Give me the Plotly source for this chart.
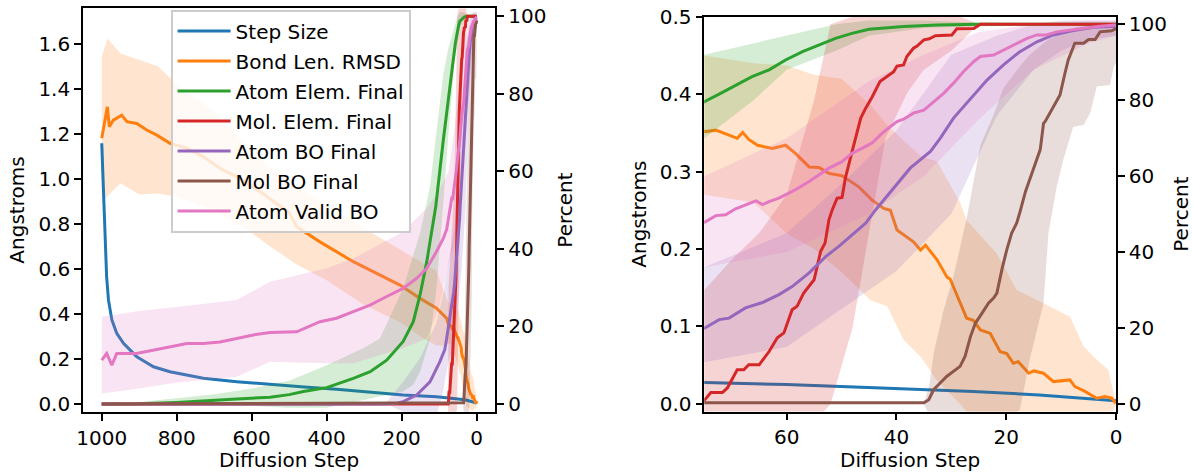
import plotly.graph_objects as go

# ---------------- data ----------------
BLUE_STEPS = [1000, 991, 987, 982, 973, 960, 942, 907, 862, 818, 729, 640, 551, 460, 374, 280, 196, 107, 75, 60, 44, 26, 14, 8, 0]
STEP_SIZE = [1.158, 0.713, 0.565, 0.461, 0.373, 0.314, 0.269, 0.210, 0.165, 0.143, 0.114, 0.099, 0.086, 0.075, 0.065,
             0.052, 0.040, 0.032, 0.0275, 0.025, 0.021, 0.016, 0.0116, 0.0086, 0.004]
STEP_SIZE_STD = [0.02, 0.02, 0.018, 0.016, 0.014, 0.012, 0.01, 0.008, 0.006, 0.005, 0.004, 0.003, 0.003, 0.003, 0.002,
                 0.002, 0.002, 0.002, 0.0015, 0.0015, 0.0015, 0.001, 0.001, 0.001, 0.001]

ORANGE_STEPS = [1000, 995.7, 985, 979.7, 969, 946.7, 933, 906.7, 880, 853, 818, 773, 729, 684.5, 640, 596, 551, 500,
                480, 418, 329, 258, 204.5, 151, 107, 80, 74.9, 72.9, 70.5, 69, 68, 66.9, 65.3, 62.6, 60.2, 58.4, 55.9,
                54.1, 52.3, 49.9, 46.8, 44.4, 42.3, 41.1, 39.9, 36.9, 35.6, 34.7, 32.6, 30.8, 30.2, 27.2, 26, 24.7,
                22.9, 21.1, 19.9, 18.7, 17.8, 15.9, 15, 13.2, 11.4, 9.6, 8.4, 7.5, 5.9, 3.5, 2, 0.8, 0]
BOND_RMSD = [1.180, 1.217, 1.320, 1.231, 1.261, 1.283, 1.254, 1.246, 1.217, 1.194, 1.158, 1.136, 1.098, 1.047, 1.009,
             0.965, 0.913, 0.85, 0.787, 0.72, 0.632, 0.573, 0.528, 0.469, 0.425, 0.380, 0.3514, 0.3535, 0.347, 0.343,
             0.3506, 0.3415, 0.334, 0.330, 0.334, 0.3235, 0.306, 0.3054, 0.2977, 0.2946, 0.280, 0.263, 0.2525, 0.250,
             0.2245, 0.2094, 0.1987, 0.205, 0.186, 0.164, 0.161, 0.1106, 0.108, 0.0955, 0.091, 0.0675, 0.065, 0.0525,
             0.0546, 0.0396, 0.0426, 0.0396, 0.0288, 0.030, 0.031, 0.0223, 0.0172, 0.0074, 0.0094, 0.0074, 0.001]
ORANGE_BAND_STEPS = [1000, 985, 950, 900, 850, 800, 700, 600, 551, 480, 400, 300, 200, 150, 107, 80, 75, 66, 60, 55,
                     50, 44.7, 41.7, 38.7, 35.6, 32.6, 28.4, 27.2, 21.7, 18.1, 13.2, 8.4, 5.9, 3.5, 1.4, 0]
BOND_RMSD_LO = [0.898, 0.92, 0.98, 0.93, 0.935, 0.92, 0.86, 0.76, 0.70, 0.62, 0.55, 0.44, 0.36, 0.30, 0.26, 0.26, 0.27,
                0.26, 0.22, 0.20, 0.17, 0.134, 0.126, 0.083, 0.061, 0.03, 0.0, -0.01, -0.02, -0.02, -0.03, -0.03, -0.02,
                -0.02, -0.02, 0.0]
BOND_RMSD_HI = [1.542, 1.624, 1.557, 1.53, 1.50, 1.42, 1.30, 1.12, 1.05, 0.97, 0.88, 0.78, 0.68, 0.63, 0.59, 0.47, 0.45,
                0.44, 0.437, 0.425, 0.42, 0.386, 0.36, 0.34, 0.32, 0.313, 0.26, 0.237, 0.194, 0.147, 0.13, 0.113, 0.074,
                0.057, 0.044, 0.0]

GREEN_STEPS = [1000, 900, 800, 729, 640, 551, 500, 462, 400, 329, 284, 240, 196, 169, 151, 133, 120, 109, 89, 75, 72.3,
               69.3, 66.3, 63.2, 60.2, 57.1, 54.1, 51.1, 48.1, 45, 38.7, 32.6, 24.7, 0]
ATOM_ELEM = [0, 0.05, 0.4, 0.85, 1.3, 1.7, 2.4, 3.2, 4.2, 6.6, 8.3, 11.3, 16.1, 21.2, 28.1, 36.7, 44.4, 51, 68, 79.6,
             81.6, 84.0, 86.2, 88.0, 90.6, 92.8, 94.5, 96.3, 97.6, 98.7, 99.4, 99.8, 100, 100]
GREEN_BAND_STEPS = [1000, 900, 800, 700, 600, 500, 400, 300, 258, 196, 169, 151, 124.5, 107, 89, 75, 66, 60, 51, 45,
                    35, 25, 0]
ATOM_ELEM_LO = [0, 0, 0, -0.3, -0.5, -1, -1, 1, 2, 3.2, 5, 8.3, 16.9, 30, 52, 70, 80, 88, 93, 97, 99, 99.5, 100]
ATOM_ELEM_HI = [0, 0.5, 1.5, 2.5, 4, 6, 10, 14.5, 16.9, 29.8, 38.4, 44, 56, 70, 85, 92, 95, 97, 100, 101, 101, 100.5, 100]

RED_STEPS = [1000, 76, 74.9, 73.8, 71.7, 70.8, 69, 67.8, 66.9, 65, 63.2, 61.7, 60.5, 59, 58.1, 56.9, 55, 54.4, 53.8,
             53, 52.3, 51.7, 50.8, 49.9, 49.3, 48.4, 47.5, 46.5, 45.6, 44.4, 43, 41.7, 40.5, 39.9, 38.7, 38.1, 36.9,
             36.3, 35, 34, 32.9, 29.9, 29, 25.9, 24.7, 0]
MOL_ELEM = [0, 0, 1.1, 3.0, 3.0, 4.2, 9.0, 9.0, 10.3, 10.3, 13.8, 17.4, 18.7, 24.8, 25.7, 29.2, 32.7, 36.2, 40.2, 42.4,
            48.5, 51.1, 54.2, 54.4, 59.5, 64.7, 70, 75.3, 77.9, 80.9, 84.9, 86.2, 87.5, 89, 89.3, 91.5, 93.7, 94.2,
            95.9, 96.2, 97, 97.2, 98.8, 98.9, 100, 100]
RED_BAND_STEPS = [1000, 76, 75, 70, 65, 60, 55, 52, 48, 45, 42, 38, 35, 30, 25, 0]
MOL_ELEM_LO = [0, 0, -28, -25, -20, -15, -5, 0, 20, 45, 70, 82, 88, 93, 100, 100]
MOL_ELEM_HI = [0, 0, 30, 38, 45, 55, 80, 100, 102, 103, 103, 103, 103, 103, 100, 100]

PURPLE_STEPS = [1000, 250, 213, 196, 160, 124.5, 98, 85, 80, 74.9, 72.3, 70.5, 67.5, 64.4, 61.4, 59, 55.9, 52.9, 50.5,
                48.1, 45.6, 43.8, 41.1, 37.5, 33.8, 32, 29.6, 26.5, 23.5, 20.5, 17.5, 14.4, 11.4, 8, 4, 0]
ATOM_BO = [0, 0, 0.2, 0.6, 2.3, 5.7, 10.9, 14, 16.9, 20.0, 22.2, 22.6, 25.3, 26.7, 28.8, 30.9, 34.5, 38.8, 41.5, 44.6,
           47.6, 51.1, 55.9, 62.1, 66.5, 70, 75.3, 80.5, 85.3, 89.3, 92.8, 95.4, 97.2, 98.3, 99.2, 99.5]
PURPLE_BAND_STEPS = [1000, 260, 240, 196, 151, 107, 90, 75, 60, 50, 40, 30, 21.7, 15, 10, 5, 0]
ATOM_BO_LO = [0, 0, 0, -2, -5, -3, 3, 11, 15, 25, 35, 50, 76, 88, 93, 96, 97]
ATOM_BO_HI = [0, 0, 0.5, 5.7, 11.8, 21, 28, 36, 45, 58, 72, 92, 97, 100, 101, 101, 101]

BROWN_STEPS = [1000, 35, 34.1, 33.2, 32.3, 30.8, 28.4, 27.5, 26.5, 25.6, 24.4, 23.2, 22.3, 21.7, 20.8, 19.9, 19, 18.1,
               17.5, 16.5, 15, 13.8, 13.2, 12.9, 11.4, 10.2, 9.3, 8.7, 7.5, 5.9, 5, 3.8, 2.9, 0.8, 0]
MOL_BO = [0, 0.3, 1.1, 3.8, 5.1, 7.3, 9.9, 12.5, 17.8, 21.3, 23.9, 26.6, 27.9, 29.2, 35.3, 40.6, 45, 47.6, 50.5, 55.9,
          62.1, 67, 73.9, 74.4, 78.3, 81.4, 87.1, 90.6, 95, 95, 96, 96, 98, 98.3, 98.9]
BROWN_BAND_STEPS = [1000, 36, 35, 34, 33.2, 31.4, 29.6, 27.2, 24.7, 22.3, 20.5, 17.5, 15.7, 13.2, 12.3, 10.8, 9.6, 7.8,
                    5.9, 4.7, 3.5, 1.1, 0.4, 0]
MOL_BO_LO = [0, 0, 0, -3, -6, -10, -12, -15, -12, -8, -5, -1.5, 11.7, 26.6, 45, 57.3, 64.3, 73, 73.5, 76.6, 83.6, 84,
             88.8, 90]
MOL_BO_HI = [0, 0, 0, 5, 13.4, 24.8, 33.6, 49, 68.2, 76.1, 83.2, 89, 92, 95, 96, 97, 98, 99, 99.5, 100, 100, 100, 100,
             100]

PINK_STEPS = [1000, 986.7, 973, 960, 907, 862, 818, 773, 729, 685, 640, 596, 551, 480, 418, 374, 329, 284.5, 240, 196,
              160, 133, 107, 89, 80, 74.9, 72.9, 71.1, 69.3, 67.5, 65.6, 64.4, 63.2, 61.4, 60.2, 58.4, 55.9, 54.1, 52.3,
              49.9, 48.1, 46.2, 44.4, 42.3, 39.9, 38.7, 36.9, 35, 33.2, 31.4, 29.6, 27.8, 25.9, 24.7, 22.3, 20.5, 18.7,
              16.2, 14.4, 12.7, 10.8, 6, 3, 0]
ATOM_VALID = [11.3, 13, 10, 13, 13, 13.9, 14.7, 15.6, 15.6, 16, 16.9, 17.8, 18.4, 18.6, 21.2, 22.1, 23.8, 25.5, 27.7,
              29.8, 32.4, 35, 39.3, 42.7, 45, 47.9, 49.6, 49.8, 51.4, 52.4, 53.5, 52.5, 53.3, 54.2, 55.1, 56.4, 58.6,
              60.3, 62.1, 63.8, 66, 67.4, 68.8, 71.7, 74.4, 75, 76.6, 77.4, 79.6, 81.8, 84.5, 87.5, 90.2, 91.5, 91.9,
              93.2, 94.6, 96.3, 97.2, 97.2, 98, 99, 99.5, 99.8]
PINK_BAND_STEPS = [1000, 900, 800, 640, 551, 400, 329, 196, 133, 100, 75, 60, 45, 35, 25, 15, 5, 0]
ATOM_VALID_LO = [2.7, 4, 5.5, 7, 10.9, 10.5, 10.5, 14.4, 16.9, 25, 36, 40, 50, 60, 75, 88, 95, 97]
ATOM_VALID_HI = [22.5, 24, 25, 26.8, 31.5, 35, 37.5, 44.4, 50.5, 55, 60, 70, 85, 92, 98, 100, 101, 101]

NAMES = ["Step Size", "Bond Len. RMSD", "Atom Elem. Final", "Mol. Elem. Final", "Atom BO Final", "Mol BO Final",
         "Atom Valid BO"]
COLORS = ["#1f77b4", "#ff7f0e", "#2ca02c", "#d62728", "#9467bd", "#8c564b", "#e377c2"]

LEFT_XTICKS = [1000, 800, 600, 400, 200, 0]
RIGHT_XTICKS = [60, 40, 20, 0]
LEFT_ATICKS = [0.0, 0.2, 0.4, 0.6, 0.8, 1.0, 1.2, 1.4, 1.6]
RIGHT_ATICKS = [0.0, 0.1, 0.2, 0.3, 0.4, 0.5]
PCT_TICKS = [0, 20, 40, 60, 80, 100]

# ---------------- figure ----------------
W, H = 1193, 472
FONT = "DejaVu Sans"
FS = 20


def rgba(hexc, a):
    h = hexc.lstrip("#")
    return "rgba(%d,%d,%d,%s)" % (int(h[0:2], 16), int(h[2:4], 16), int(h[4:6], 16), a)


blue_lo = [m - s for m, s in zip(STEP_SIZE, STEP_SIZE_STD)]
blue_hi = [m + s for m, s in zip(STEP_SIZE, STEP_SIZE_STD)]

# (name, color, axis kind, line steps, line values, band steps, band lo, band hi)
SERIES = [
    (NAMES[0], COLORS[0], "A", BLUE_STEPS, STEP_SIZE, BLUE_STEPS, blue_lo, blue_hi),
    (NAMES[1], COLORS[1], "A", ORANGE_STEPS, BOND_RMSD, ORANGE_BAND_STEPS, BOND_RMSD_LO, BOND_RMSD_HI),
    (NAMES[2], COLORS[2], "P", GREEN_STEPS, ATOM_ELEM, GREEN_BAND_STEPS, ATOM_ELEM_LO, ATOM_ELEM_HI),
    (NAMES[3], COLORS[3], "P", RED_STEPS, MOL_ELEM, RED_BAND_STEPS, MOL_ELEM_LO, MOL_ELEM_HI),
    (NAMES[4], COLORS[4], "P", PURPLE_STEPS, ATOM_BO, PURPLE_BAND_STEPS, ATOM_BO_LO, ATOM_BO_HI),
    (NAMES[5], COLORS[5], "P", BROWN_STEPS, MOL_BO, BROWN_BAND_STEPS, MOL_BO_LO, MOL_BO_HI),
    (NAMES[6], COLORS[6], "P", PINK_STEPS, ATOM_VALID, PINK_BAND_STEPS, ATOM_VALID_LO, ATOM_VALID_HI),
]

PANELS = [
    {"x": "x", "A": "y", "P": "y2", "legend": True},
    {"x": "x2", "A": "y3", "P": "y4", "legend": False},
]

fig = go.Figure()
for panel in PANELS:
    for kind in ("A", "P"):
        # bands first (below lines), then lines
        for name, col, k, ls, lv, bs, lo, hi in SERIES:
            if k != kind:
                continue
            fig.add_trace(go.Scatter(
                x=list(bs) + list(bs)[::-1], y=list(hi) + list(lo)[::-1],
                xaxis=panel["x"], yaxis=panel[kind], mode="lines", fill="toself",
                fillcolor=rgba(col, 0.2), line=dict(width=0, color=rgba(col, 0)),
                hoverinfo="skip", showlegend=False))
        for name, col, k, ls, lv, bs, lo, hi in SERIES:
            if k != kind:
                continue
            fig.add_trace(go.Scatter(
                x=ls, y=lv, xaxis=panel["x"], yaxis=panel[kind], mode="lines",
                line=dict(color=col, width=3), name=name, legendgroup=name,
                showlegend=panel["legend"]))

axis_common = dict(showline=True, linecolor="black", linewidth=1.6, ticks="outside", ticklen=7, tickwidth=1.6,
                   tickcolor="black", showgrid=False, zeroline=False, automargin=False,
                   tickfont=dict(family=FONT, size=FS, color="black"),
                   title_font=dict(family=FONT, size=FS, color="black"))

LX = [83 / W, 495.4 / W]
LY = [1 - 411.7 / H, 1 - 8.4 / H]
RX = [704.3 / W, 1116 / W]
RY = [1 - 411.5 / H, 1 - 16.7 / H]

fig.update_layout(
    width=W, height=H, margin=dict(l=0, r=0, t=0, b=0, autoexpand=False),
    paper_bgcolor="white", plot_bgcolor="rgba(0,0,0,0)",
    font=dict(family=FONT, size=FS, color="black"),
    showlegend=True,
    legend=dict(x=171 / W, y=1 - 10 / H, xanchor="left", yanchor="top",
                bgcolor="rgba(255,255,255,0.8)", bordercolor="#cccccc", borderwidth=1.6,
                font=dict(family=FONT, size=FS, color="black"), tracegroupgap=1,
                traceorder="grouped", itemwidth=53),
    xaxis=dict(domain=LX, range=[1050, -50], tickvals=LEFT_XTICKS, anchor="y", mirror=True,
               title=dict(text="Diffusion Step", standoff=6), **axis_common),
    yaxis=dict(domain=LY, range=[-0.03445, 1.7572], tickvals=LEFT_ATICKS, tickformat=".1f", anchor="x",
               title=dict(text="Angstroms", standoff=8), **axis_common),
    yaxis2=dict(overlaying="y", side="right", range=[-2, 102], tickvals=PCT_TICKS, anchor="x",
                title=dict(text="Percent", standoff=13), **axis_common),
    xaxis2=dict(domain=RX, range=[75, 0], tickvals=RIGHT_XTICKS, anchor="y3", mirror=True,
                title=dict(text="Diffusion Step", standoff=6), **axis_common),
    yaxis3=dict(domain=RY, range=[-0.0098, 0.5], tickvals=RIGHT_ATICKS, tickformat=".1f", anchor="x2",
                title=dict(text="Angstroms", standoff=8), **axis_common),
    yaxis4=dict(overlaying="y3", side="right", range=[-2, 102], tickvals=PCT_TICKS, anchor="x2",
                title=dict(text="Percent", standoff=10), **axis_common),
)

fig.write_html("out.html", config={"displayModeBar": False},
               post_script="document.body.style.margin='0';document.body.style.overflow='hidden';")
